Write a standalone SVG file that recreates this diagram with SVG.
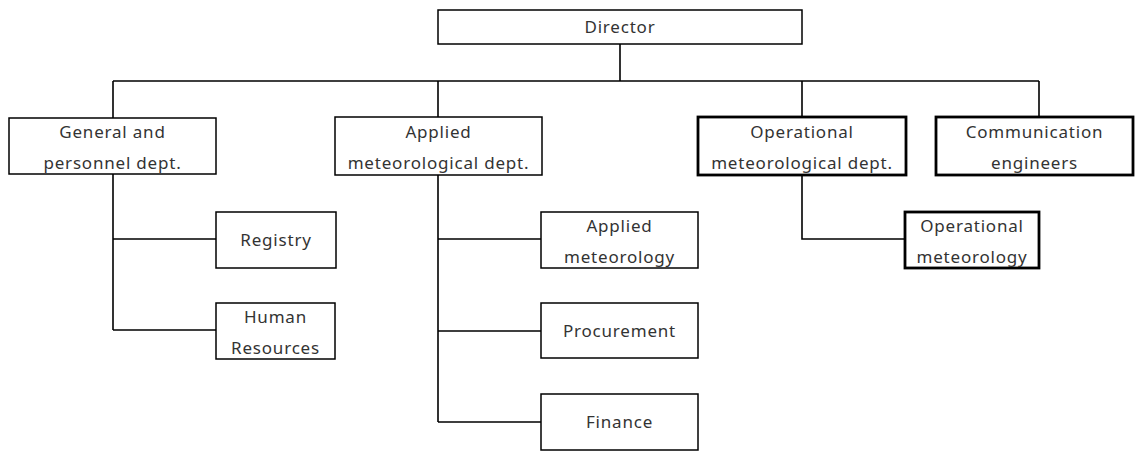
<svg xmlns="http://www.w3.org/2000/svg" width="1135" height="451" viewBox="0 0 1135 451">
<style>
.box{fill:#fff;stroke:#000;stroke-width:1.5}
.thick{fill:#fff;stroke:#000;stroke-width:2.8}
.conn{stroke:#000;stroke-width:1.6;fill:none}
text{font-family:"Noto Sans","Liberation Sans",sans-serif;font-size:17px;fill:#333;text-anchor:middle;letter-spacing:0.8px}
</style>
<rect width="1135" height="451" fill="#fff"/>
<g id="connectors" class="conn">
<path d="M620,44V81M113,81H1039M113,81V118M438,81V117M802,81V117M1039,81V117"/>
<path d="M113,174V330M113,239H216M113,330H216"/>
<path d="M438,175V422M438,239H541M438,331H541M438,422H541"/>
<path d="M802,175V239H905"/>
</g>
<g id="director"><rect class="box" x="438" y="10" width="364" height="34"/><text x="620" y="33">Director</text></g>
<g id="general"><rect class="box" x="9" y="118" width="207" height="56"/><text x="112.5" y="138">General and</text><text x="112.5" y="169">personnel dept.</text></g>
<g id="applied-dept"><rect class="box" x="335" y="117" width="207" height="58"/><text x="438.5" y="138">Applied</text><text x="438.5" y="169">meteorological dept.</text></g>
<g id="operational-dept"><rect class="thick" x="698" y="117" width="208" height="58"/><text x="802" y="138">Operational</text><text x="802" y="169">meteorological dept.</text></g>
<g id="communication"><rect class="thick" x="936" y="117" width="197" height="58"/><text x="1034.5" y="138">Communication</text><text x="1034.5" y="169">engineers</text></g>
<g id="registry"><rect class="box" x="216" y="212" width="120" height="56"/><text x="276" y="246">Registry</text></g>
<g id="human-resources"><rect class="box" x="216" y="303" width="119" height="56"/><text x="275.5" y="323">Human</text><text x="275.5" y="354">Resources</text></g>
<g id="applied-meteorology"><rect class="box" x="541" y="212" width="157" height="56"/><text x="619.5" y="232">Applied</text><text x="619.5" y="263">meteorology</text></g>
<g id="procurement"><rect class="box" x="541" y="303" width="157" height="55"/><text x="619.5" y="337">Procurement</text></g>
<g id="finance"><rect class="box" x="541" y="394" width="157" height="56"/><text x="619.5" y="428">Finance</text></g>
<g id="operational-meteorology"><rect class="thick" x="905" y="212" width="134" height="56"/><text x="972" y="232">Operational</text><text x="972" y="263">meteorology</text></g>
</svg>
